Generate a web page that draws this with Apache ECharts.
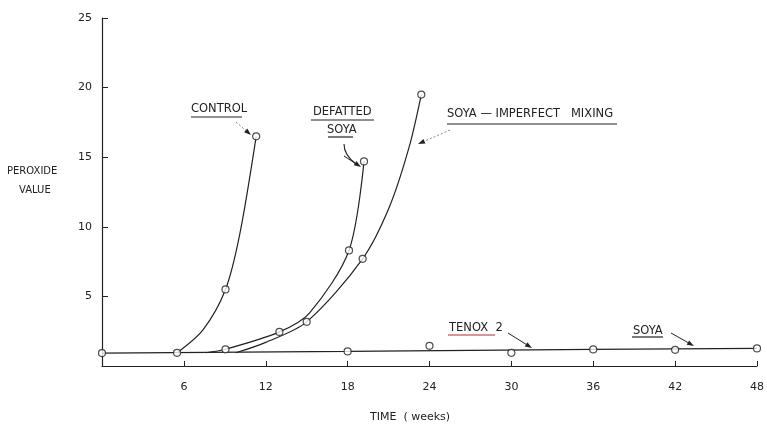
<!DOCTYPE html>
<html>
<head>
<meta charset="utf-8">
<script src="https://cdn.jsdelivr.net/npm/echarts@6/dist/echarts.min.js"></script>
<style>
  html, body { margin: 0; padding: 0; background: #fff; }
  #chart { width: 767px; height: 431px; }
</style>
</head>
<body>
<div id="chart"></div>
<script>
// values (weeks, peroxide value)
var controlCurve = [[5.5, 0.95], [7.4, 2.6], [9.05, 5.5], [10.1, 9.5], [11.3, 16.5]];
var controlPoints = [[5.5, 0.95], [9.05, 5.5], [11.3, 16.5]];

var defattedCurve = [[7.6, 0.95], [9.05, 1.2], [13, 2.45], [15.2, 3.8], [18.1, 8.3], [19.2, 14.7]];
var defattedPoints = [[9.05, 1.2], [13, 2.45], [18.1, 8.3], [19.2, 14.7]];

var mixingCurve = [[9.8, 0.95], [12, 1.7], [15, 3.17], [19.1, 7.7], [21.05, 11.4], [22.5, 15.7], [23.4, 19.5]];
var mixingPoints = [[15, 3.17], [19.1, 7.7], [23.4, 19.5]];

var baseLine = [[0, 0.93], [18, 1.05], [36, 1.2], [48, 1.26]];
var basePoints = [[0, 0.93], [18, 1.05], [24, 1.45], [30, 0.95], [36, 1.19], [42, 1.16], [48, 1.26]];

var xTicks = [6, 12, 18, 24, 30, 36, 42, 48];
var yTicks = [5, 10, 15, 20, 25];

var ink = '#222';
var font = 'DejaVu Sans';

function curve(data) {
    return {
        type: 'line',
        data: data,
        smooth: 0.3,
        symbol: 'none',
        lineStyle: { color: ink, width: 1.2 },
        z: 2
    };
}

function dots(data) {
    return {
        type: 'scatter',
        data: data,
        symbol: 'circle',
        symbolSize: 7,
        itemStyle: { color: '#fff', borderColor: ink, borderWidth: 1.2 },
        z: 3
    };
}

function label(text, x, y, size) {
    return {
        type: 'text', left: x, top: y,
        style: { text: text, font: (size || 11.5) + 'px "' + font + '"', fill: ink }
    };
}

function rule(x1, y1, x2, y2, color) {
    return {
        type: 'line',
        shape: { x1: x1, y1: y1, x2: x2, y2: y2 },
        style: { stroke: color || ink, lineWidth: 1.2 }
    };
}

function arrow(x1, y1, x2, y2, dashed) {
    var a = Math.atan2(y2 - y1, x2 - x1);
    var l = 7, w = 2.5;
    var bx = x2 - l * Math.cos(a), by = y2 - l * Math.sin(a);
    return [{
        type: 'line',
        shape: { x1: x1, y1: y1, x2: bx, y2: by },
        style: { stroke: dashed ? '#888' : ink, lineWidth: 1, lineDash: dashed ? [2, 2] : null }
    }, {
        type: 'polygon',
        shape: { points: [[x2, y2], [bx - w * Math.sin(a), by + w * Math.cos(a)], [bx + w * Math.sin(a), by - w * Math.cos(a)]] },
        style: { fill: ink }
    }];
}

var graphics = [
    label('PEROXIDE', 7, 166, 10),
    label('VALUE', 19, 185, 10),
    label('TIME  ( weeks)', 370, 412, 11),
    label('CONTROL', 191, 103),
    rule(191, 117, 242, 117),
    label('DEFATTED', 313, 106),
    rule(311, 120, 374, 120),
    label('SOYA', 327, 124),
    rule(328, 137, 353, 137),
    label('SOYA \u2014 IMPERFECT   MIXING', 447, 108),
    rule(447, 124, 617, 124),
    label('TENOX  2', 449, 322),
    rule(448, 335, 495, 335, '#a33'),
    label('SOYA', 633, 325),
    rule(632, 337, 663, 337),
    {
        type: 'bezierCurve',
        shape: { x1: 344, y1: 144, x2: 356, y2: 164, cpx1: 344, cpy1: 155 },
        style: { stroke: ink, lineWidth: 1.1, fill: null }
    }
];
graphics = graphics
    .concat(arrow(236, 122, 251, 135, true))
    .concat(arrow(344, 156, 361, 167, false))
    .concat(arrow(450, 130, 418, 144, true))
    .concat(arrow(508, 333, 532, 348, false))
    .concat(arrow(671, 333, 694, 346, false));

var chart = echarts.init(document.getElementById('chart'));
chart.setOption({
    animation: false,
    backgroundColor: '#fff',
    grid: { left: 102, right: 9, top: 18, bottom: 65 },
    xAxis: {
        type: 'value', min: 0, max: 48, interval: 6,
        axisLine: { lineStyle: { color: ink, width: 1.2 } },
        axisTick: { inside: true, length: 5, lineStyle: { color: ink } },
        axisLabel: {
            color: ink, fontFamily: font, fontSize: 11, margin: 16,
            formatter: function(v) { return xTicks.indexOf(v) >= 0 ? String(v) : ''; }
        },
        splitLine: { show: false }
    },
    yAxis: {
        type: 'value', min: 0, max: 25, interval: 5,
        axisLine: { show: true, lineStyle: { color: ink, width: 1.2 } },
        axisTick: { show: true, inside: true, length: 6, lineStyle: { color: ink } },
        axisLabel: {
            color: ink, fontFamily: font, fontSize: 11, margin: 10,
            formatter: function(v) { return yTicks.indexOf(v) >= 0 ? String(v) : ''; }
        },
        splitLine: { show: false }
    },
    series: [
        {
            type: 'line', data: baseLine, symbol: 'none',
            lineStyle: { color: ink, width: 1.2 }, z: 2
        },
        curve(controlCurve),
        curve(defattedCurve),
        curve(mixingCurve),
        dots(basePoints),
        dots(controlPoints),
        dots(defattedPoints),
        dots(mixingPoints)
    ],
    graphic: graphics
});
</script>
</body>
</html>
